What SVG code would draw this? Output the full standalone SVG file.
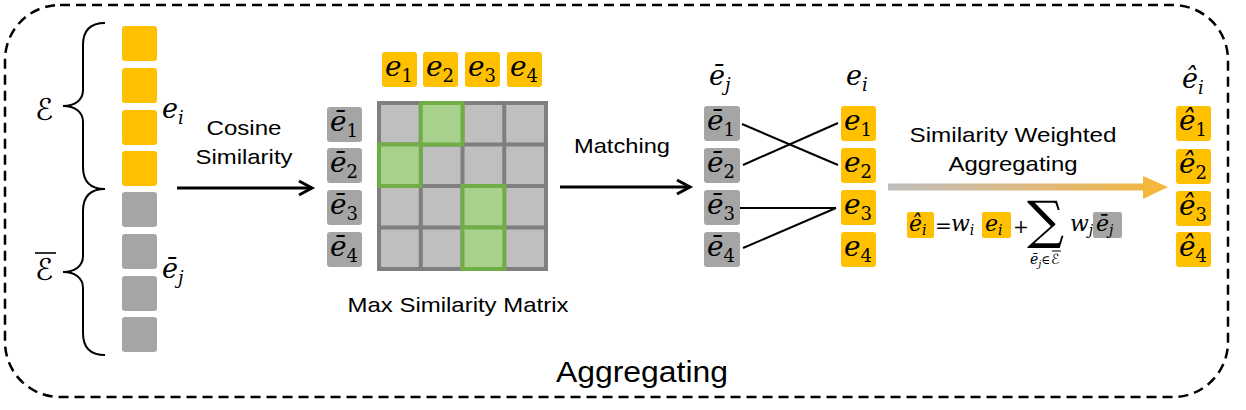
<svg xmlns="http://www.w3.org/2000/svg" width="1246" height="410" viewBox="0 0 1246 410">
<style>
.y{fill:#FFC000}
.g{fill:#A5A5A5}
.t{font-family:"Liberation Sans",Arial,sans-serif;font-size:21px;fill:#000;text-anchor:middle}
.m{font-family:"DejaVu Serif",serif;font-style:italic;font-size:27px;fill:#000}
.b{font-size:28px}
.s{font-size:18px;font-style:normal}
.si{font-size:18px;font-style:italic}
.f{font-family:"DejaVu Serif",serif;font-style:italic;font-size:22px;fill:#000}
.fs{font-size:14px}
.cal{font-family:"DejaVu Sans",sans-serif;font-style:normal;fill:#000}
.ln{stroke:#000;stroke-width:2;fill:none}
.cell{fill:#A9D18E;stroke:#70AD47;stroke-width:4}
</style>
<defs>
<marker id="ah" markerUnits="userSpaceOnUse" markerWidth="20" markerHeight="20" refX="14" refY="8" orient="auto" viewBox="0 0 20 16">
<path d="M1,1 L14,8 L1,15" fill="none" stroke="#000" stroke-width="3"/>
</marker>
<linearGradient id="grad" x1="888" y1="0" x2="1167" y2="0" gradientUnits="userSpaceOnUse">
<stop offset="0" stop-color="#BFBFBF"/>
<stop offset="0.5" stop-color="#DDB880"/>
<stop offset="1" stop-color="#F4B83C"/>
</linearGradient>
</defs>

<g id="frame">
<rect x="5" y="5" width="1223" height="392" rx="55" ry="55" fill="none" stroke="#000" stroke-width="2.5" stroke-dasharray="10 6"/>
<text class="t" x="642" y="382" style="font-size:30px" textLength="172" lengthAdjust="spacingAndGlyphs">Aggregating</text>
</g>

<g id="embeddings">
<rect class="y" x="122" y="26" width="35" height="35" rx="3"/>
<rect class="y" x="122" y="68" width="35" height="35" rx="3"/>
<rect class="y" x="122" y="110" width="35" height="35" rx="3"/>
<rect class="y" x="122" y="151" width="35" height="35" rx="3"/>
<rect class="g" x="122" y="192" width="35" height="35" rx="3"/>
<rect class="g" x="122" y="234" width="35" height="35" rx="3"/>
<rect class="g" x="122" y="276" width="35" height="35" rx="3"/>
<rect class="g" x="122" y="317" width="35" height="35" rx="3"/>
<path class="ln" d="M105,23 C90,23 83,30 83,45 L83,90 C83,100 75,106 63,106 C75,106 83,112 83,122 L83,167 C83,182 90,189 105,189"/>
<path class="ln" d="M105,189 C90,189 83,196 83,211 L83,256 C83,266 75,272 63,272 C75,272 83,278 83,288 L83,333 C83,348 90,355 105,355"/>
<text class="cal" x="35" y="120" style="font-size:30px">ℰ</text>
<text class="cal" x="35" y="280" style="font-size:30px">ℰ</text>
<line x1="35" y1="253" x2="56" y2="253" stroke="#000" stroke-width="1.6"/>
<text class="m" x="162" y="118">e<tspan class="si" dy="6">i</tspan></text>
<text class="m" x="162" y="278">ē<tspan class="si" dy="6">j</tspan></text>
</g>

<g id="cosine-label">
<text class="t" x="244" y="135" textLength="75" lengthAdjust="spacingAndGlyphs">Cosine</text>
<text class="t" x="244" y="164" textLength="97" lengthAdjust="spacingAndGlyphs">Similarity</text>
</g>

<g id="matrix">
<rect class="y" x="382" y="52" width="35" height="35" rx="3"/>
<rect class="y" x="423" y="52" width="35" height="35" rx="3"/>
<rect class="y" x="465" y="52" width="35" height="35" rx="3"/>
<rect class="y" x="507" y="52" width="35" height="35" rx="3"/>
<text class="m b" x="385" y="76">e<tspan class="s" dy="6">1</tspan></text>
<text class="m b" x="426" y="76">e<tspan class="s" dy="6">2</tspan></text>
<text class="m b" x="468" y="76">e<tspan class="s" dy="6">3</tspan></text>
<text class="m b" x="510" y="76">e<tspan class="s" dy="6">4</tspan></text>
<rect class="g" x="327" y="107" width="35" height="35" rx="3"/>
<rect class="g" x="327" y="148" width="35" height="35" rx="3"/>
<rect class="g" x="327" y="190" width="35" height="35" rx="3"/>
<rect class="g" x="327" y="232" width="35" height="35" rx="3"/>
<text class="m b" x="330" y="131">ē<tspan class="s" dy="6">1</tspan></text>
<text class="m b" x="330" y="172">ē<tspan class="s" dy="6">2</tspan></text>
<text class="m b" x="330" y="214">ē<tspan class="s" dy="6">3</tspan></text>
<text class="m b" x="330" y="256">ē<tspan class="s" dy="6">4</tspan></text>
<rect x="379" y="103" width="167" height="166" fill="#BFBFBF" stroke="#7F7F7F" stroke-width="4"/>
<path d="M420.75,103 V269 M462.5,103 V269 M504.25,103 V269 M379,144.5 H546 M379,186 H546 M379,227.5 H546" stroke="#7F7F7F" stroke-width="4" fill="none"/>
<rect class="cell" x="420.75" y="103" width="41.75" height="41.5"/>
<rect class="cell" x="379" y="144.5" width="41.75" height="41.5"/>
<rect class="cell" x="462.5" y="186" width="41.75" height="41.5"/>
<rect class="cell" x="462.5" y="227.5" width="41.75" height="41.5"/>
<text class="t" x="458" y="312" textLength="221" lengthAdjust="spacingAndGlyphs">Max Similarity Matrix</text>
</g>

<g id="matching">
<text class="t" x="622" y="153" textLength="96" lengthAdjust="spacingAndGlyphs">Matching</text>
<text class="m" x="709" y="85">ē<tspan class="si" dy="6">j</tspan></text>
<text class="m" x="846" y="85">e<tspan class="si" dy="6">i</tspan></text>
<rect class="g" x="704" y="106" width="36" height="35" rx="3"/>
<rect class="g" x="704" y="148" width="36" height="35" rx="3"/>
<rect class="g" x="704" y="190" width="36" height="35" rx="3"/>
<rect class="g" x="704" y="232" width="36" height="35" rx="3"/>
<text class="m b" x="707" y="130">ē<tspan class="s" dy="6">1</tspan></text>
<text class="m b" x="707" y="172">ē<tspan class="s" dy="6">2</tspan></text>
<text class="m b" x="707" y="214">ē<tspan class="s" dy="6">3</tspan></text>
<text class="m b" x="707" y="256">ē<tspan class="s" dy="6">4</tspan></text>
<rect class="y" x="841" y="106" width="35" height="35" rx="3"/>
<rect class="y" x="841" y="148" width="35" height="35" rx="3"/>
<rect class="y" x="841" y="190" width="35" height="35" rx="3"/>
<rect class="y" x="841" y="232" width="35" height="35" rx="3"/>
<text class="m b" x="844" y="130">e<tspan class="s" dy="6">1</tspan></text>
<text class="m b" x="844" y="172">e<tspan class="s" dy="6">2</tspan></text>
<text class="m b" x="844" y="214">e<tspan class="s" dy="6">3</tspan></text>
<text class="m b" x="844" y="256">e<tspan class="s" dy="6">4</tspan></text>
</g>

<g id="aggregation">
<text class="t" x="1013" y="142" textLength="207" lengthAdjust="spacingAndGlyphs">Similarity Weighted</text>
<text class="t" x="1013" y="171" textLength="129" lengthAdjust="spacingAndGlyphs">Aggregating</text>
<rect class="y" x="907" y="212" width="27" height="26" rx="2"/>
<text class="f" x="909" y="231">ê<tspan class="fs" dy="4">i</tspan></text>
<text class="f" x="935" y="233" style="font-style:normal;font-size:20px">=</text>
<text class="f" x="951" y="231">w<tspan class="fs" dy="4">i</tspan></text>
<rect class="y" x="982" y="212" width="29" height="26" rx="2"/>
<text class="f" x="985" y="231">e<tspan class="fs" dy="4">i</tspan></text>
<text class="f" x="1013" y="233" style="font-style:normal;font-size:19px">+</text>
<text class="f" x="1027" y="238" style="font-style:normal;font-size:52px">∑</text>
<text class="f" x="1030" y="264" style="font-size:14px">ē<tspan style="font-size:10px" dy="3">j</tspan><tspan dy="-3" style="font-style:normal;font-size:12px">∈</tspan></text>
<text class="cal" x="1051" y="264" style="font-size:14px">ℰ</text>
<line x1="1052" y1="251" x2="1061" y2="251" stroke="#000" stroke-width="1"/>
<text class="f" x="1070" y="231">w<tspan class="fs" dy="4">j</tspan></text>
<rect class="g" x="1093" y="212" width="29" height="26" rx="2"/>
<text class="f" x="1096" y="231">ē<tspan class="fs" dy="4">j</tspan></text>
</g>

<g id="output">
<text class="m" x="1182" y="88">ê<tspan class="si" dy="6">i</tspan></text>
<rect class="y" x="1176" y="106" width="35" height="35" rx="3"/>
<rect class="y" x="1176" y="149" width="35" height="35" rx="3"/>
<rect class="y" x="1176" y="191" width="35" height="35" rx="3"/>
<rect class="y" x="1176" y="232" width="35" height="35" rx="3"/>
<text class="m b" x="1179" y="130">ê<tspan class="s" dy="6">1</tspan></text>
<text class="m b" x="1179" y="173">ê<tspan class="s" dy="6">2</tspan></text>
<text class="m b" x="1179" y="215">ê<tspan class="s" dy="6">3</tspan></text>
<text class="m b" x="1179" y="256">ê<tspan class="s" dy="6">4</tspan></text>
</g>

<g id="connectors">
<line x1="177" y1="188" x2="312" y2="188" stroke="#000" stroke-width="3" marker-end="url(#ah)"/>
<line x1="560" y1="187" x2="690" y2="187" stroke="#000" stroke-width="3" marker-end="url(#ah)"/>
<line class="ln" x1="742" y1="124" x2="838" y2="165"/>
<line class="ln" x1="743" y1="165" x2="838" y2="123"/>
<line class="ln" x1="740" y1="208" x2="836" y2="208"/>
<line class="ln" x1="743" y1="248" x2="836" y2="208"/>
<rect x="888" y="183.5" width="256" height="7" fill="url(#grad)"/>
<polygon points="1143,176 1168,187 1143,199" fill="#F4B83C"/>
</g>
</svg>
